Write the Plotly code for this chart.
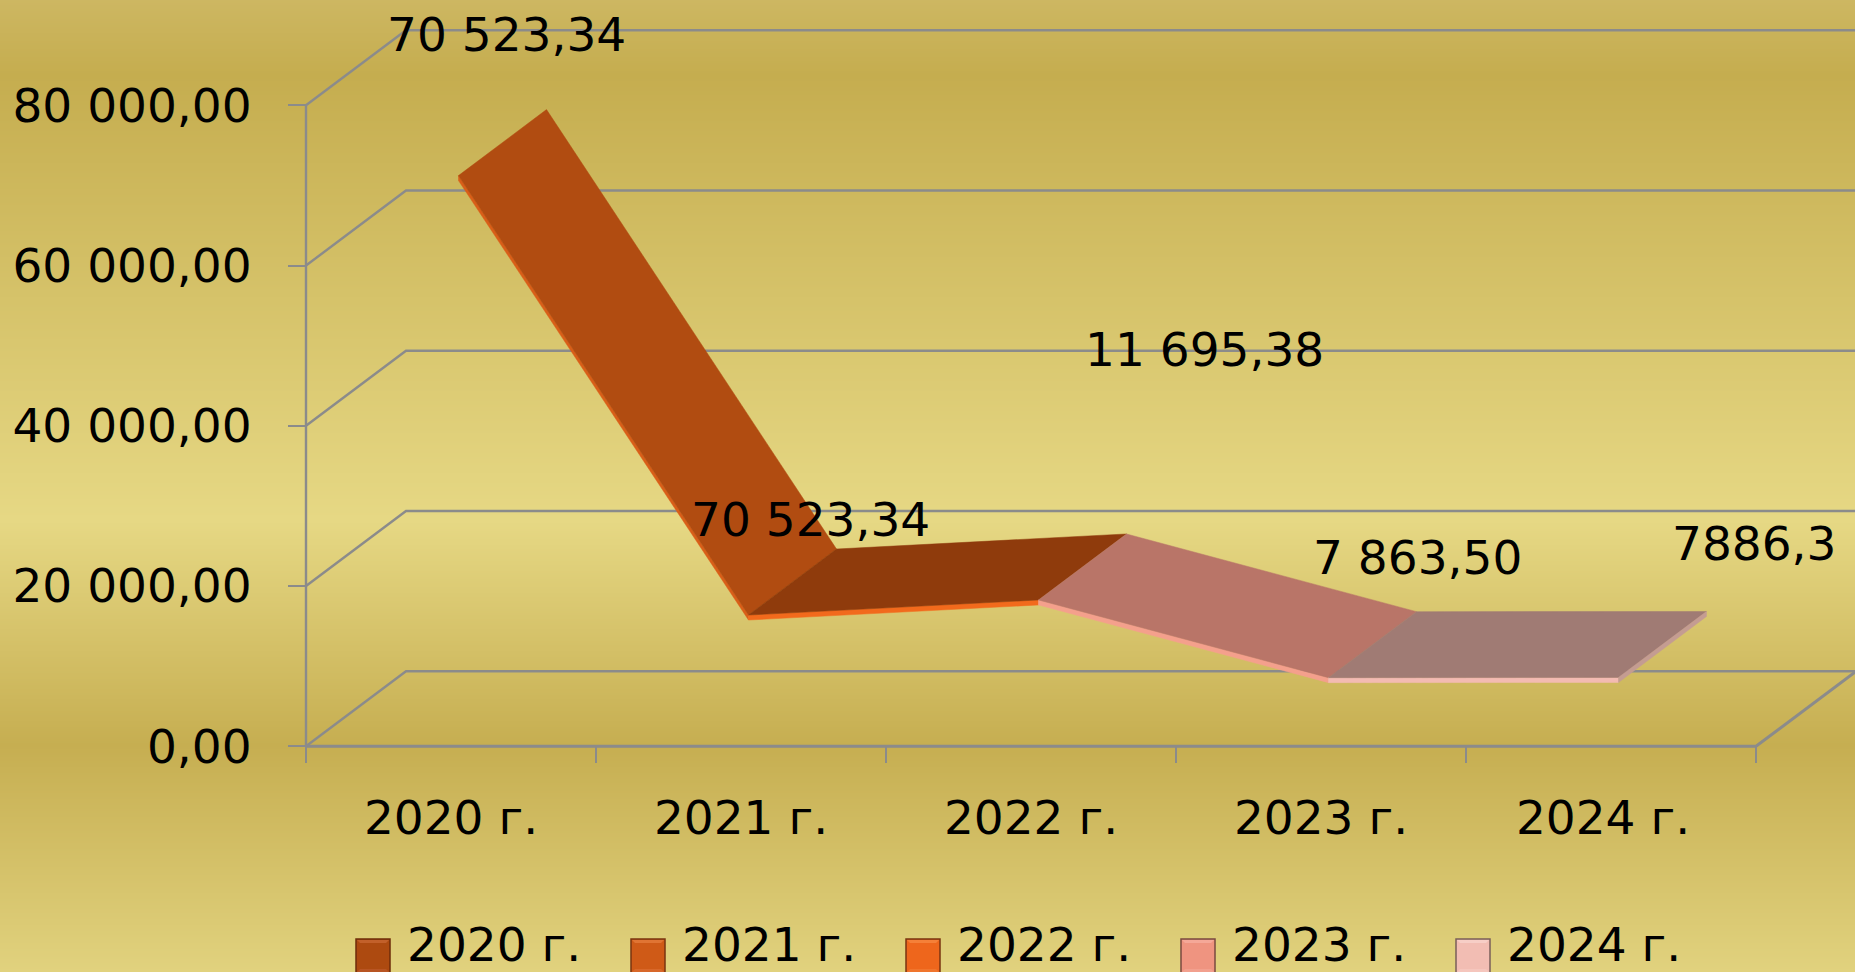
import numpy as np
import plotly.graph_objects as go

# ---------- data ----------
categories = ["2020 г.", "2021 г.", "2022 г.", "2023 г.", "2024 г."]
values = [70523.34, 15680, 17560, 7863.50, 7886.30]
data_labels = ["70 523,34", "70 523,34", "11 695,38", "7 863,50", "7886,3"]
y_ticks = [0, 20000, 40000, 60000, 80000]
y_tick_labels = ["0,00", "20 000,00", "40 000,00", "60 000,00", "80 000,00"]

# ---------- styles ----------
W, H = 1855, 972
PX_PER_CAT = 290.0          # pixels per category
VAL_PER_PX = 124.8          # value units per pixel
X0_PX, Y0_PX = 306.0, 746.3  # pixel position of the chart origin
DEPTH_X = 100.0 / PX_PER_CAT  # oblique depth, in category units
DEPTH_Y = 75.0 * VAL_PER_PX   # oblique depth, in value units
F_FRONT, F_BACK = 0.075, 0.955  # ribbon extent along depth
THICK = 5.0 * VAL_PER_PX
FONT = "DejaVu Sans"
FS = 47
GRID = "#8b8b8b"
top_faces = ["#B14C11", "#8F3B0C", "#B97568", "#A07B74"]
strips = ["#D95E18", "#F26A1C", "#F4A08C", "#F3BBB2"]
end_side = "#C49C92"
legend_fill = ["#AD4A10", "#CF5A17", "#EE661C", "#EF9480", "#F2BDB3"]
legend_top = ["#C2602A", "#E07433", "#F58038", "#F5A898", "#F7CEC6"]
legend_bot = ["#B85523", "#D8682A", "#F0752D", "#F2A08E", "#F5C6BD"]
legend_line = ["#6E2D0A", "#7A3510", "#7A3510", "#7A4A40", "#7A5F5A"]
bg_stops = [(0, "#CDB762"), (75, "#C5AD4F"), (520, "#E6D884"), (745, "#C6AE51"), (972, "#E1D27E")]
label_px = [(507, 34), (810, 519), (1204, 349), (1417, 557), (1754, 543)]
LEG_X0, LEG_STEP, LEG_SIZE, LEG_TOP, LEG_TEXT_DX, LEG_TEXT_Y = 356, 275, 34, 939, 49, 944

x_range = [-X0_PX / PX_PER_CAT, (W - X0_PX) / PX_PER_CAT]
y_range = [-(H - Y0_PX) * VAL_PER_PX, Y0_PX * VAL_PER_PX]


def project(cat, val, depth):
    """Oblique projection of (category position, value, depth 0..1) to the axes."""
    return cat + depth * DEPTH_X, val + depth * DEPTH_Y


fig = go.Figure()

# background gradient
rows = np.arange(0, H + 2, 2)
stops = [(p / H, c) for p, c in bg_stops]
fig.add_trace(go.Heatmap(
    x=x_range, y=(Y0_PX - rows) * VAL_PER_PX, z=[[r, r] for r in rows],
    colorscale=stops, zmin=0, zmax=H, showscale=False, hoverinfo="skip",
))

# walls and gridlines
n = len(categories)
for v in y_ticks[1:] + y_ticks[:1]:
    xs, ys = zip(project(0, v, 0), project(0, v, 1), project(n, v, 1))
    fig.add_trace(go.Scatter(x=xs, y=ys, mode="lines", line=dict(color=GRID, width=2.4),
                             hoverinfo="skip", showlegend=False))
xs, ys = zip(project(0, 0, 0), project(n, 0, 0), project(n, 0, 1))
fig.add_trace(go.Scatter(x=xs, y=ys, mode="lines", line=dict(color=GRID, width=3),
                         hoverinfo="skip", showlegend=False))
fig.add_trace(go.Scatter(x=[0, 0], y=[0, y_ticks[-1]], mode="lines", line=dict(color=GRID, width=2.4),
                         hoverinfo="skip", showlegend=False))

# ribbon
centers = [i + 0.5 for i in range(n)]


def poly(points, color, name):
    xs, ys = zip(*points)
    fig.add_trace(go.Scatter(x=list(xs) + [xs[0]], y=list(ys) + [ys[0]], mode="lines", fill="toself",
                             fillcolor=color, line=dict(color=color, width=0.5),
                             name=name, hoverinfo="skip", showlegend=False))


for i in range(n - 1):
    c0, c1, v0, v1 = centers[i], centers[i + 1], values[i], values[i + 1]
    poly([project(c0, v0, F_FRONT), project(c1, v1, F_FRONT),
          project(c1, v1 - THICK, F_FRONT), project(c0, v0 - THICK, F_FRONT)], strips[i], categories[i])
    poly([project(c0, v0, F_FRONT), project(c1, v1, F_FRONT),
          project(c1, v1, F_BACK), project(c0, v0, F_BACK)], top_faces[i], categories[i])
c, v = centers[-1], values[-1]
poly([project(c, v, F_FRONT), project(c, v, F_BACK),
      project(c, v - THICK, F_BACK), project(c, v - THICK, F_FRONT)], end_side, categories[-1])

# data labels
for text, (px, py) in zip(data_labels, label_px):
    fig.add_annotation(x=px / W, y=1 - py / H, xref="paper", yref="paper", text=text, showarrow=False,
                       xanchor="center", yanchor="middle", font=dict(family=FONT, size=FS, color="#000000"))


# legend: bevelled swatches and real text
def px_path(pts):
    return "M" + "L".join(f"{x/W:.5f},{1-y/H:.5f}" for x, y in pts) + "Z"


shapes = []
for i, name in enumerate(categories):
    x0 = LEG_X0 + i * LEG_STEP
    x1, y0, y1 = x0 + LEG_SIZE, LEG_TOP, LEG_TOP + LEG_SIZE
    shapes.append(dict(type="rect", xref="paper", yref="paper", x0=x0 / W, x1=x1 / W, y0=1 - y1 / H, y1=1 - y0 / H,
                       fillcolor=legend_fill[i], line=dict(color=legend_line[i], width=1.5), layer="above"))
    b = 4
    shapes.append(dict(type="path", xref="paper", yref="paper",
                       path=px_path([(x0 + 1, y0 + 1), (x1 - 1, y0 + 1), (x1 - b, y0 + b), (x0 + b, y0 + b)]),
                       fillcolor=legend_top[i], line=dict(width=0), layer="above"))
    shapes.append(dict(type="path", xref="paper", yref="paper",
                       path=px_path([(x0 + 1, y1 - 1), (x1 - 1, y1 - 1), (x1 - b, y1 - b), (x0 + b, y1 - b)]),
                       fillcolor=legend_bot[i], line=dict(width=0), layer="above"))
    fig.add_annotation(x=(x0 + LEG_TEXT_DX) / W, y=1 - LEG_TEXT_Y / H, xref="paper", yref="paper", text=name,
                       showarrow=False, xanchor="left", yanchor="middle",
                       font=dict(family=FONT, size=FS, color="#000000"))

fig.update_layout(
    width=W, height=H, margin=dict(l=0, r=0, t=0, b=0),
    paper_bgcolor="#DCCB75", plot_bgcolor="rgba(0,0,0,0)",
    font=dict(family=FONT, size=FS, color="#000000"),
    hovermode=False, showlegend=False, shapes=shapes,
    xaxis=dict(range=x_range, anchor="free", position=(H - Y0_PX) / H, domain=[0, 1],
               showgrid=False, zeroline=False, showline=False,
               tickmode="array", tickvals=centers[:-1] + [centers[-1] - 8 / PX_PER_CAT], ticktext=categories,
               ticks="", ticklabelstandoff=40,
               minor=dict(tickmode="array", tickvals=list(range(n + 1)), ticks="outside",
                          ticklen=16, tickwidth=2.4, tickcolor=GRID, showgrid=False)),
    yaxis=dict(range=y_range, anchor="free", position=X0_PX / W, domain=[0, 1],
               showgrid=False, zeroline=False, showline=False,
               tickmode="array", tickvals=y_ticks, ticktext=y_tick_labels,
               ticks="outside", ticklen=18, tickwidth=2.4, tickcolor=GRID, ticklabelstandoff=27),
)

fig.write_html("out.html", config=dict(displayModeBar=False),
               post_script="document.body.style.margin='0';document.body.style.overflow='hidden';")
